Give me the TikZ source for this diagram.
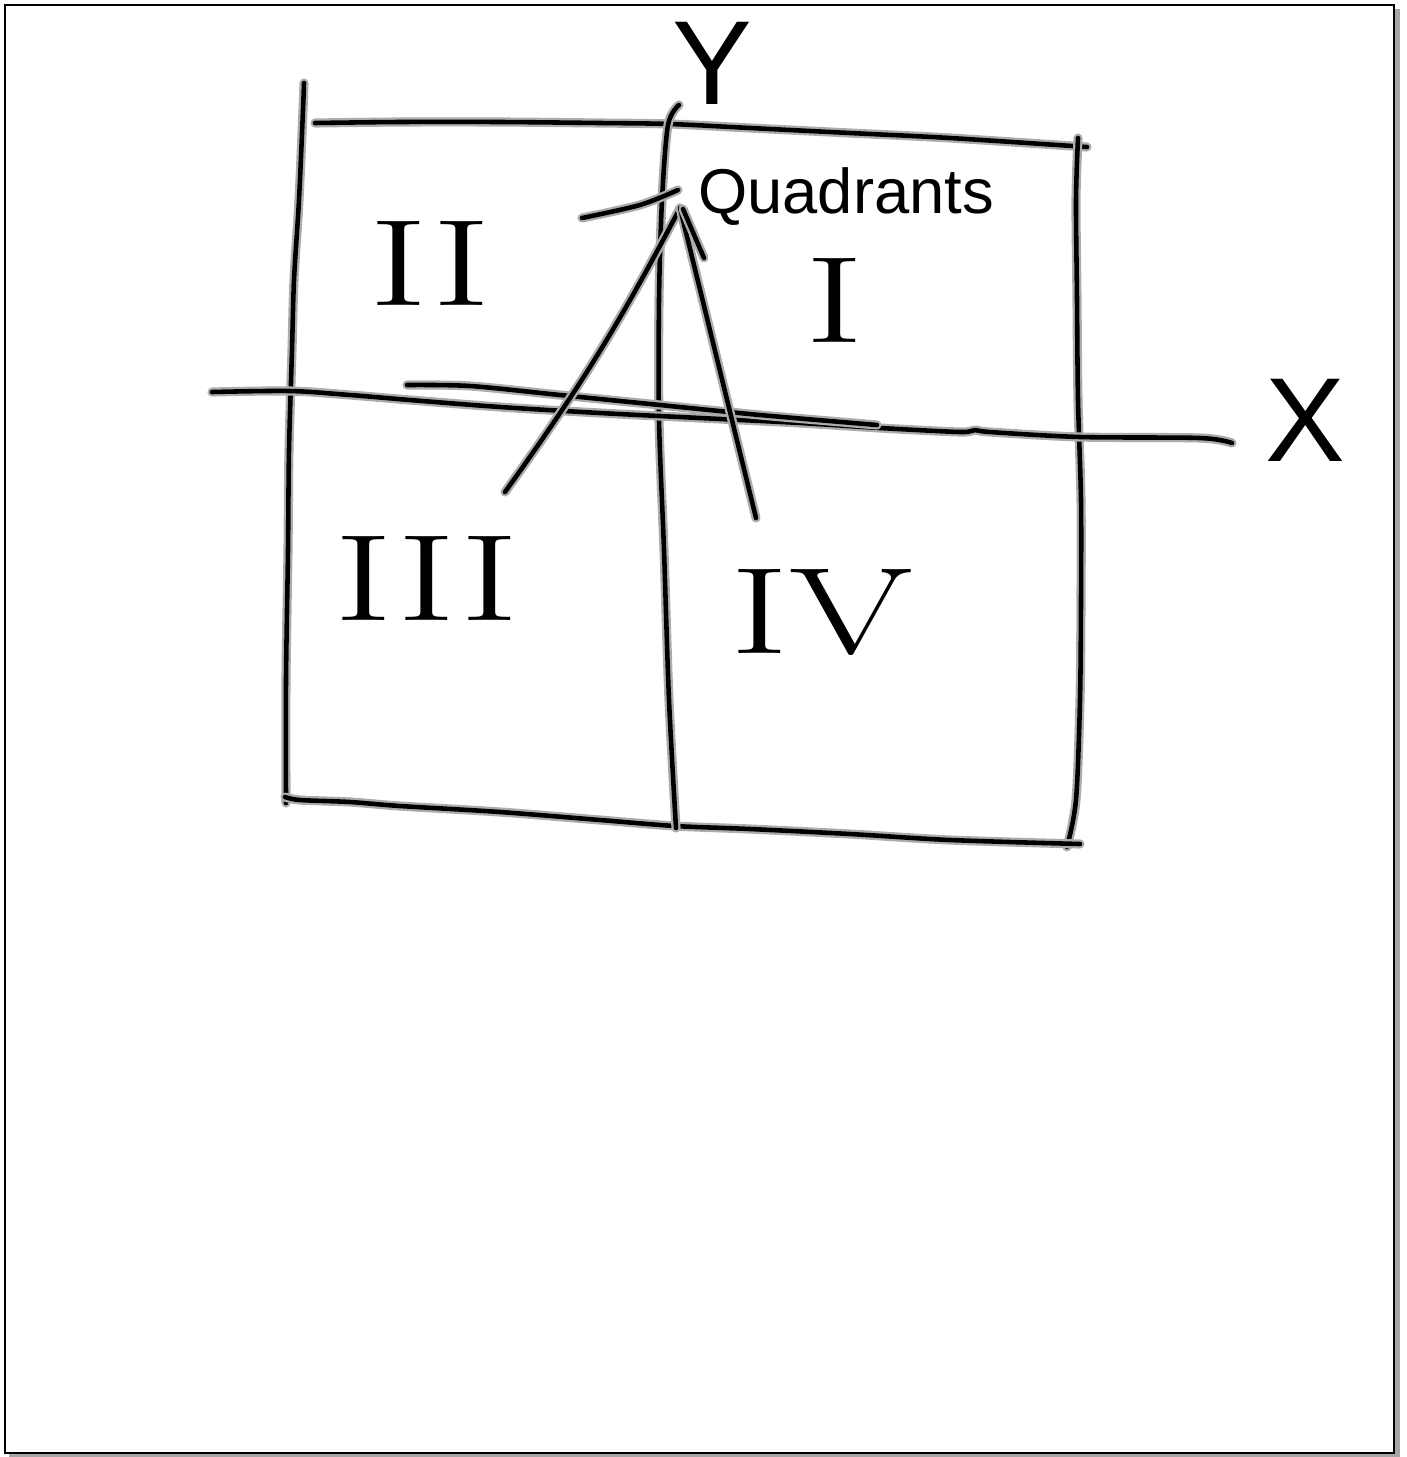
\documentclass[tikz,border=0pt]{standalone}
\usepackage{fontspec}
\newfontfamily\handfont{Liberation Sans}
\usetikzlibrary{positioning}

% roman numerals are drawn wide in the sketch
\newcommand{\widenum}[1]{\scalebox{1.45}[1]{#1}}

\begin{document}
\begin{tikzpicture}[x=0.01cm, y=-0.01cm,
    pen/.style={draw=black, line width=1.3pt, line cap=round, line join=round,
        preaction={draw=gray!65, line width=2.6pt, line cap=round, line join=round}},
    frameline/.style={draw=black, line width=0.7pt},
    numeral/.style={font=\fontsize{35}{35}\selectfont, inner sep=0pt},
    axislabel/.style={font=\handfont\fontsize{34}{34}\selectfont, inner sep=0pt},
    notelabel/.style={font=\handfont\fontsize{18}{18}\selectfont, inner sep=0pt, anchor=base}]

    % page: 1407 x 1457 px, 1 px = 0.01 cm
    \useasboundingbox (0,0) rectangle (1407,1457);

    % page frame with its shadow
    \draw[gray!70, line width=1.2pt] (9,1455.5) -- (1397.5,1455.5) -- (1397.5,9);
    \draw[frameline] (5,5) rectangle (1394,1453);

    % outer box
    \draw[pen] plot[smooth] coordinates {(304,83) (303,110) (299,200) (294,280) (292,350)
        (289,450) (288,550) (286,680) (286,803)};
    \draw[pen] plot[smooth] coordinates {(315,123) (400,122) (500,122) (600,123) (670,124)
        (750,128) (850,133) (950,138) (1087,147)};
    \draw[pen] plot[smooth] coordinates {(1078,138) (1076,200) (1077,300) (1078,400)
        (1081,500) (1081,600) (1080,700) (1076,800) (1067,847)};
    \draw[pen] plot[smooth] coordinates {(285,797) (300,800) (350,802) (400,806) (500,812)
        (600,820) (675,826) (750,829) (850,834) (950,840) (1080,844)};

    % y axis
    \draw[pen] plot[smooth] coordinates {(679,105) (668,125) (662,200) (659,300)
        (659,420) (664,550) (669,700) (676,828)};
    \node[axislabel] (ylab) at (712,63) {Y};

    % x axis, drawn twice over on the left
    \draw[pen] plot[smooth] coordinates {(212,392) (290,391) (350,395) (410,400)
        (500,407) (600,413) (700,418) (800,423) (880,428) (960,432) (975,430)
        (990,432) (1080,437) (1200,438) (1232,443)};
    \draw[pen] plot[smooth] coordinates {(407,385) (470,386) (560,395) (660,405)
        (760,415) (877,425)};
    \node[axislabel] (xlab) at (1305,420) {X};

    % quadrant numbers
    \node[numeral] (numII) at (430,263) {\widenum{II}};
    \node[numeral] (numI) at (835,300) {\widenum{I}};
    \node[numeral] (numIII) at (427,578) {\widenum{III}};
    \node[numeral] (numIV) at (822,612) {\widenum{IV}};

    % note with its pointer
    \node[notelabel] (quad) at (846,213) {Quadrants};
    \coordinate (apex) at (680,208);
    \coordinate (fromIII) at (505,492);
    \coordinate (fromIV) at (756,518);
    \draw[pen] plot[smooth] coordinates {(582,218) (640,205) (678,190)};
    \draw[pen] (fromIII) to[bend right=4] (apex);
    \draw[pen] (apex) -- (fromIV);
    \draw[pen] (683,209) -- (704,258);
\end{tikzpicture}
\end{document}
